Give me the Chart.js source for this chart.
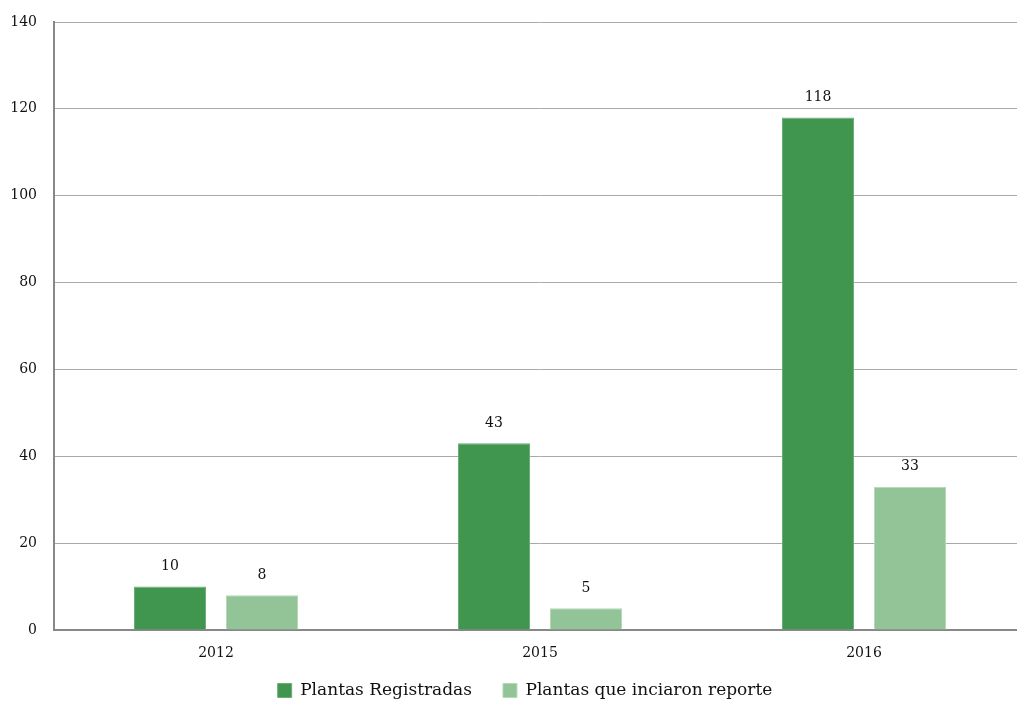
<!DOCTYPE html>
<html>
<head>
<meta charset="utf-8">
<script src="https://cdn.jsdelivr.net/npm/chart.js@4"></script>
<style>
  html, body { margin: 0; padding: 0; background: #fff; overflow: hidden; }
  #wrap { width: 1030px; height: 702px; }
</style>
</head>
<body>
<div id="wrap"><canvas id="myChart"></canvas></div>
<script>
const years = ['2012', '2015', '2016'];
const registradas = [10, 43, 118];
const iniciaronReporte = [8, 5, 33];
const yTicks = [0, 20, 40, 60, 80, 100, 120, 140];

const seriesNames = ['Plantas Registradas', 'Plantas que inciaron reporte'];
const darkGreen = '#41964f';
const lightGreen = '#93c497';
const labelFont = '14px "DejaVu Serif"';

// draws the value above every bar
const barValues = {
  id: 'barValues',
  afterDatasetsDraw(chart) {
    const ctx = chart.ctx;
    ctx.save();
    ctx.font = labelFont;
    ctx.fillStyle = '#111';
    ctx.textAlign = 'center';
    ctx.textBaseline = 'middle';
    chart.data.datasets.forEach(function (ds, i) {
      const meta = chart.getDatasetMeta(i);
      meta.data.forEach(function (bar, j) {
        ctx.fillText(ds.data[j], bar.x, bar.y - 20);
      });
    });
    ctx.restore();
  }
};

// legend padding is large (for the gap between items), so pull its box up a bit
// and a little to the right, like the original
const legendShift = {
  id: 'legendShift',
  afterLayout(chart) {
    const lg = chart.legend;
    lg.left += 12; lg.right += 12;
    lg.top -= 19;
  }
};

const ctx = document.getElementById('myChart').getContext('2d');
const chart = new Chart(ctx, {
  type: 'bar',
  data: {
    labels: years,
    datasets: [{
      label: seriesNames[0],
      data: registradas,
      backgroundColor: darkGreen,
      borderColor: '#6cae77',
      borderWidth: 1
    }, {
      label: seriesNames[1],
      data: iniciaronReporte,
      backgroundColor: lightGreen,
      borderColor: '#b5d9b7',
      borderWidth: 1
    }]
  },
  options: {
    responsive: true,
    maintainAspectRatio: false,
    animation: false,
    categoryPercentage: 0.568,
    barPercentage: 0.7826,
    layout: {
      padding: { left: 0, top: 0, right: 4, bottom: 0 }
    },
    plugins: {
      tooltip: { enabled: false },
      title: { display: false },
      legend: {
        position: 'bottom',
        maxHeight: 32,
        labels: {
          boxWidth: 14,
          boxHeight: 14,
          padding: 31,
          color: '#111',
          font: { family: 'DejaVu Serif', size: 17 }
        }
      }
    },
    scales: {
      x: {
        grid: { display: false, drawTicks: false },
        border: { color: '#888', width: 2 },
        afterFit: function (axis) { axis.height = 40; },
        ticks: {
          color: '#111',
          padding: 15,
          font: { family: 'DejaVu Serif', size: 14 }
        }
      },
      y: {
        min: 0,
        max: 140,
        afterBuildTicks: function (axis) {
          axis.ticks = yTicks.map(function (v) { return { value: v }; });
        },
        afterFit: function (axis) {
          axis.width = 54;
          axis.paddingTop = 22;
        },
        grid: { color: '#aaa', lineWidth: 1, drawTicks: false },
        border: { color: '#888', width: 2 },
        ticks: {
          color: '#111',
          padding: 17,
          font: { family: 'DejaVu Serif', size: 14 }
        }
      }
    }
  },
  plugins: [barValues, legendShift]
});
</script>
</body>
</html>
